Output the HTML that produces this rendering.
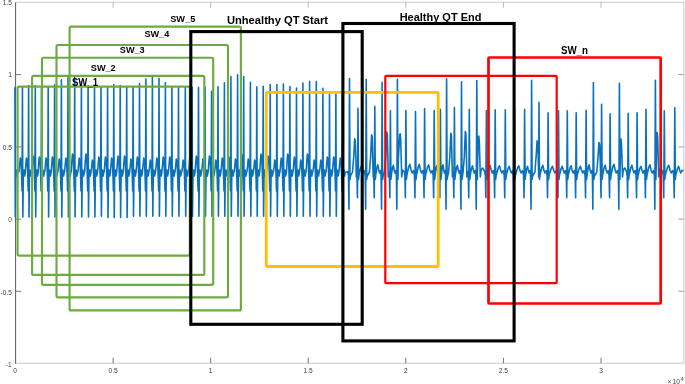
<!DOCTYPE html>
<html><head><meta charset="utf-8"><title>Sliding windows</title>
<style>
html,body{margin:0;padding:0;background:#fff;}
body{width:685px;height:384px;overflow:hidden;position:relative;font-family:"Liberation Sans",sans-serif;}
svg{position:absolute;left:0;top:0;display:block;will-change:transform;}
.ax{font-family:"Liberation Sans",sans-serif;font-size:6.6px;fill:#404040;}
.sw{font-family:"Liberation Sans",sans-serif;font-weight:bold;font-size:9.7px;fill:#000;}
.tt{font-family:"Liberation Sans",sans-serif;font-weight:bold;font-size:11.4px;fill:#000;}
</style></head><body>
<svg width="685" height="384" viewBox="0 0 685 384">
<rect x="0" y="0" width="685" height="384" fill="#ffffff"/>
<!-- axes box -->
<g fill="none">
<path d="M15.6,2.3 H683.9 V363.2 H15.6" stroke="#bcbcbc" stroke-width="0.8"/>
<path d="M15.6,2.3 V363.6" stroke="#5a5a5a" stroke-width="1"/>
<!-- ticks bottom -->
<path d="M113.1,363.2v-5.5 M210.7,363.2v-5.5 M308.2,363.2v-5.5 M405.8,363.2v-5.5 M503.4,363.2v-5.5 M601,363.2v-5.5" stroke="#555" stroke-width="0.8"/>
<!-- ticks top -->
<path d="M113.1,2.3v5.5 M210.7,2.3v5.5 M308.2,2.3v5.5 M405.8,2.3v5.5 M503.4,2.3v5.5 M601,2.3v5.5" stroke="#aaa" stroke-width="0.8"/>
<!-- ticks left -->
<path d="M15.6,74.6h5.5 M15.6,146.9h5.5 M15.6,219.1h5.5 M15.6,291.3h5.5" stroke="#555" stroke-width="0.8"/>
<!-- ticks right -->
<path d="M683.9,74.6h-5.5 M683.9,146.9h-5.5 M683.9,219.1h-5.5 M683.9,291.3h-5.5" stroke="#888" stroke-width="0.8"/>
</g>
<!-- signal -->
<path d="M14.90,87.30 L15.30,217.00 L15.75,177.00 L16.40,170.00 L17.10,176.00 L17.70,172.50 L19.05,171.50 L19.65,165.00 L20.25,158.00 L21.05,161.00 L21.65,176.00 L22.05,191.00 L22.45,87.30 L22.85,217.00 L23.30,177.00 L23.95,170.00 L24.65,176.00 L25.25,172.50 L25.80,165.00 L26.40,158.00 L27.20,161.00 L27.80,176.00 L28.20,191.00 L28.60,85.50 L29.00,217.00 L29.45,177.00 L30.10,170.00 L30.80,176.00 L31.40,172.50 L31.90,171.50 L32.50,163.00 L33.10,156.00 L33.90,159.00 L34.50,176.00 L34.90,191.00 L35.30,85.50 L35.70,217.00 L36.15,177.00 L36.80,170.00 L37.50,176.00 L38.10,172.50 L38.70,164.00 L39.30,157.00 L40.10,160.00 L40.70,176.00 L41.10,191.00 L41.50,87.30 L41.90,217.00 L42.35,177.00 L43.00,170.00 L43.70,176.00 L44.30,172.50 L44.80,171.50 L45.40,165.00 L46.00,158.00 L46.80,161.00 L47.40,176.00 L47.80,191.00 L48.20,87.30 L48.60,217.00 L49.05,177.00 L49.70,170.00 L50.40,176.00 L51.00,172.50 L51.20,171.50 L51.80,164.00 L52.40,157.00 L53.20,160.00 L53.80,176.00 L54.20,191.00 L54.60,84.70 L55.00,217.00 L55.45,177.00 L56.10,170.00 L56.80,176.00 L57.40,172.50 L58.00,171.50 L58.60,166.00 L59.20,159.00 L60.00,162.00 L60.60,176.00 L61.00,191.00 L61.40,79.90 L61.80,217.00 L62.25,177.00 L62.90,170.00 L63.60,176.00 L64.20,172.50 L64.60,171.50 L65.20,165.00 L65.80,158.00 L66.60,161.00 L67.20,176.00 L67.60,191.00 L68.00,77.70 L68.40,217.00 L68.85,177.00 L69.50,170.00 L70.20,176.00 L70.80,172.50 L71.30,171.50 L71.90,161.00 L72.50,154.00 L73.30,157.00 L73.90,176.00 L74.30,191.00 L74.70,77.30 L75.10,217.00 L75.55,177.00 L76.20,170.00 L76.90,176.00 L77.50,172.50 L78.00,171.50 L78.60,165.00 L79.20,158.00 L80.00,161.00 L80.60,176.00 L81.00,191.00 L81.40,81.50 L81.80,217.00 L82.25,177.00 L82.90,170.00 L83.60,176.00 L84.20,172.50 L84.70,171.50 L85.30,161.00 L85.90,154.00 L86.70,157.00 L87.30,176.00 L87.70,191.00 L88.10,85.80 L88.50,217.00 L88.95,177.00 L89.60,170.00 L90.30,176.00 L90.90,172.50 L91.10,171.50 L91.70,167.00 L92.30,160.00 L93.10,163.00 L93.70,176.00 L94.10,191.00 L94.50,87.30 L94.90,217.00 L95.35,177.00 L96.00,170.00 L96.70,176.00 L97.30,172.50 L97.60,171.50 L98.20,164.00 L98.80,157.00 L99.60,160.00 L100.20,176.00 L100.60,191.00 L101.00,87.30 L101.40,216.30 L101.85,177.00 L102.50,170.00 L103.20,176.00 L103.80,172.50 L104.20,171.50 L104.80,164.00 L105.40,157.00 L106.20,160.00 L106.80,176.00 L107.20,191.00 L107.60,87.30 L108.00,217.40 L108.45,177.00 L109.10,170.00 L109.80,176.00 L110.40,172.50 L111.00,165.00 L111.60,158.00 L112.40,161.00 L113.00,176.00 L113.40,191.00 L113.80,84.50 L114.20,217.40 L114.65,177.00 L115.30,170.00 L116.00,176.00 L116.60,172.50 L116.80,171.50 L117.40,163.00 L118.00,156.00 L118.80,159.00 L119.40,176.00 L119.80,191.00 L120.20,85.50 L120.60,217.40 L121.05,177.00 L121.70,170.00 L122.40,176.00 L123.00,172.50 L123.30,171.50 L123.90,163.00 L124.50,156.00 L125.30,159.00 L125.90,176.00 L126.30,191.00 L126.70,87.30 L127.10,217.40 L127.55,177.00 L128.20,170.00 L128.90,176.00 L129.50,172.50 L129.70,171.50 L130.30,166.00 L130.90,159.00 L131.70,162.00 L132.30,176.00 L132.70,191.00 L133.10,87.30 L133.50,216.30 L133.95,177.00 L134.60,170.00 L135.30,176.00 L135.90,172.50 L136.10,171.50 L136.70,164.00 L137.30,157.00 L138.10,160.00 L138.70,176.00 L139.10,191.00 L139.50,83.50 L139.90,216.30 L140.35,177.00 L141.00,170.00 L141.70,176.00 L142.30,172.50 L142.50,171.50 L143.10,165.00 L143.70,158.00 L144.50,161.00 L145.10,176.00 L145.50,191.00 L145.90,79.10 L146.30,216.30 L146.75,177.00 L147.40,170.00 L148.10,176.00 L148.70,172.50 L149.00,171.50 L149.60,167.00 L150.20,160.00 L151.00,163.00 L151.60,176.00 L152.00,191.00 L152.40,77.10 L152.80,216.30 L153.25,177.00 L153.90,170.00 L154.60,176.00 L155.20,172.50 L155.60,171.50 L156.20,165.00 L156.80,158.00 L157.60,161.00 L158.20,176.00 L158.60,191.00 L159.00,78.30 L159.40,216.30 L159.85,177.00 L160.50,170.00 L161.20,176.00 L161.80,172.50 L162.00,171.50 L162.60,164.00 L163.20,157.00 L164.00,160.00 L164.60,176.00 L165.00,191.00 L165.40,82.80 L165.80,216.30 L166.25,177.00 L166.90,170.00 L167.60,176.00 L168.20,172.50 L168.50,171.50 L169.10,164.00 L169.70,157.00 L170.50,160.00 L171.10,176.00 L171.50,191.00 L171.90,87.30 L172.30,216.30 L172.75,177.00 L173.40,170.00 L174.10,176.00 L174.70,172.50 L175.10,171.50 L175.70,166.00 L176.30,159.00 L177.10,162.00 L177.70,176.00 L178.10,191.00 L178.50,87.30 L178.90,216.30 L179.35,177.00 L180.00,170.00 L180.70,176.00 L181.30,172.50 L181.90,171.50 L182.50,167.00 L183.10,160.00 L183.90,163.00 L184.50,176.00 L184.90,191.00 L185.30,87.30 L185.70,216.30 L186.15,177.00 L186.80,170.00 L187.50,176.00 L188.10,172.50 L188.70,171.50 L189.30,163.00 L189.90,156.00 L190.70,159.00 L191.30,176.00 L191.70,191.00 L192.10,87.30 L192.50,216.30 L192.95,177.00 L193.60,170.00 L194.30,176.00 L194.90,172.50 L195.10,171.50 L195.70,163.00 L196.30,156.00 L197.10,159.00 L197.70,176.00 L198.10,191.00 L198.50,87.30 L198.90,216.30 L199.35,177.00 L200.00,170.00 L200.70,176.00 L201.30,172.50 L201.70,171.50 L202.30,166.00 L202.90,159.00 L203.70,162.00 L204.30,176.00 L204.70,191.00 L205.10,87.30 L205.50,216.30 L205.95,177.00 L206.60,170.00 L207.30,176.00 L207.90,172.50 L208.20,171.50 L208.80,163.00 L209.40,156.00 L210.20,159.00 L210.80,176.00 L211.20,191.00 L211.60,91.30 L212.00,216.30 L212.45,177.00 L213.10,170.00 L213.80,176.00 L214.40,172.50 L214.60,171.50 L215.20,167.00 L215.80,160.00 L216.60,163.00 L217.20,176.00 L217.60,191.00 L218.00,86.70 L218.40,216.30 L218.85,177.00 L219.50,170.00 L220.20,176.00 L220.80,172.50 L221.00,171.50 L221.60,165.00 L222.20,158.00 L223.00,161.00 L223.60,176.00 L224.00,191.00 L224.40,82.90 L224.80,216.30 L225.25,177.00 L225.90,170.00 L226.60,176.00 L227.20,172.50 L227.50,171.50 L228.10,164.00 L228.70,157.00 L229.50,160.00 L230.10,176.00 L230.50,191.00 L230.90,76.50 L231.30,216.30 L231.75,177.00 L232.40,170.00 L233.10,176.00 L233.70,172.50 L234.20,171.50 L234.80,166.00 L235.40,159.00 L236.20,162.00 L236.80,176.00 L237.20,191.00 L237.60,74.90 L238.00,216.30 L238.45,177.00 L239.10,170.00 L239.80,176.00 L240.40,172.50 L240.90,161.00 L241.50,154.00 L242.30,157.00 L242.90,176.00 L243.30,191.00 L243.70,76.50 L244.10,216.30 L244.55,177.00 L245.20,170.00 L245.90,176.00 L246.50,172.50 L247.00,171.50 L247.60,166.00 L248.20,159.00 L249.00,162.00 L249.60,176.00 L250.00,191.00 L250.40,82.30 L250.80,216.30 L251.25,177.00 L251.90,170.00 L252.60,176.00 L253.20,172.50 L253.40,171.50 L254.00,167.00 L254.60,160.00 L255.40,163.00 L256.00,176.00 L256.40,191.00 L256.80,86.90 L257.20,216.30 L257.65,177.00 L258.30,170.00 L259.00,176.00 L259.60,172.50 L259.80,171.50 L260.40,161.00 L261.00,154.00 L261.80,157.00 L262.40,176.00 L262.80,191.00 L263.20,86.30 L263.60,216.30 L264.05,177.00 L264.70,170.00 L265.40,176.00 L266.00,172.50 L266.80,171.50 L267.40,163.00 L268.00,156.00 L268.80,159.00 L269.40,176.00 L269.80,191.00 L270.20,84.60 L270.60,216.30 L271.05,177.00 L271.70,170.00 L272.40,176.00 L273.00,172.50 L273.50,171.50 L274.10,167.00 L274.70,160.00 L275.50,163.00 L276.10,176.00 L276.50,191.00 L276.90,84.60 L277.30,216.30 L277.75,177.00 L278.40,170.00 L279.10,176.00 L279.70,172.50 L280.00,171.50 L280.60,165.00 L281.20,158.00 L282.00,161.00 L282.60,176.00 L283.00,191.00 L283.40,84.10 L283.80,216.30 L284.25,177.00 L284.90,170.00 L285.60,176.00 L286.20,172.50 L286.50,171.50 L287.10,161.00 L287.70,154.00 L288.50,157.00 L289.10,176.00 L289.50,191.00 L289.90,86.60 L290.30,216.30 L290.75,177.00 L291.40,170.00 L292.10,176.00 L292.70,172.50 L293.10,171.50 L293.70,164.00 L294.30,157.00 L295.10,160.00 L295.70,176.00 L296.10,191.00 L296.50,88.10 L296.90,216.30 L297.35,177.00 L298.00,170.00 L298.70,176.00 L299.30,172.50 L299.50,171.50 L300.10,167.00 L300.70,160.00 L301.50,163.00 L302.10,176.00 L302.50,191.00 L302.90,83.10 L303.30,216.30 L303.75,177.00 L304.40,170.00 L305.10,176.00 L305.70,172.50 L306.20,171.50 L306.80,161.00 L307.40,154.00 L308.20,157.00 L308.80,176.00 L309.20,191.00 L309.60,81.60 L310.00,216.30 L310.45,177.00 L311.10,170.00 L311.80,176.00 L312.40,172.50 L312.90,171.50 L313.50,167.00 L314.10,160.00 L314.90,163.00 L315.50,176.00 L315.90,191.00 L316.30,81.60 L316.70,216.30 L317.15,177.00 L317.80,170.00 L318.50,176.00 L319.10,172.50 L319.50,171.50 L320.10,167.00 L320.70,160.00 L321.50,163.00 L322.10,176.00 L322.50,191.00 L322.90,88.40 L323.30,216.30 L323.75,177.00 L324.40,170.00 L325.10,176.00 L325.70,172.50 L326.10,171.50 L326.70,164.00 L327.30,157.00 L328.10,160.00 L328.70,176.00 L329.10,191.00 L329.50,94.10 L329.90,216.30 L330.35,177.00 L331.00,170.00 L331.70,176.00 L332.30,172.50 L332.50,171.50 L333.10,164.00 L333.70,157.00 L334.50,160.00 L335.10,176.00 L335.50,191.00 L335.90,94.10 L336.30,216.30 L336.75,177.00 L337.40,170.00 L338.10,176.00 L338.70,172.50 L339.00,171.50 L339.60,165.00 L340.20,158.00 L341.00,161.00 L341.60,176.00 L342.00,191.00 L342.40,92.50 L342.80,216.30 L343.25,177.00 L343.90,170.00 L344.60,176.00 L345.20,172.50 L347.80,171.50 L348.50,176.00 L348.95,209.30 L349.50,78.50 L350.00,179.50 L350.50,176.00 L352.50,172.00 L353.70,157.00 L354.70,138.80 L355.30,140.80 L355.90,160.00 L356.30,177.00 L357.00,176.00 L357.45,197.80 L358.00,108.20 L358.50,179.50 L359.00,175.00 L360.46,168.00 L361.44,165.80 L362.51,170.50 L363.41,173.00 L364.40,170.50 L364.50,171.50 L365.20,176.00 L365.65,209.30 L366.20,79.20 L366.70,179.50 L367.20,176.00 L369.40,172.00 L370.60,157.00 L371.60,134.80 L372.20,136.80 L372.80,160.00 L373.20,177.00 L373.80,176.00 L374.25,197.80 L374.80,106.40 L375.30,179.50 L375.80,175.00 L376.99,167.00 L377.87,164.80 L378.81,170.50 L379.62,173.00 L380.49,170.50 L381.10,176.00 L381.55,209.30 L382.10,82.40 L382.60,179.50 L383.10,176.00 L384.50,172.00 L385.70,157.00 L386.70,132.00 L387.30,134.00 L387.90,160.00 L388.30,177.00 L388.70,171.50 L389.40,176.00 L389.85,197.80 L390.40,110.80 L390.90,179.50 L391.40,175.00 L392.50,167.50 L393.34,165.30 L394.25,170.50 L395.02,173.00 L395.86,170.50 L396.40,176.00 L396.85,209.30 L397.40,79.40 L397.90,179.50 L398.30,160.00 L399.70,134.80 L400.20,133.80 L400.70,138.80 L401.20,158.00 L401.70,177.00 L402.50,170.00 L404.20,171.50 L404.90,176.00 L405.35,197.80 L405.90,110.50 L406.40,179.50 L406.90,175.00 L408.78,166.50 L409.93,164.30 L411.18,170.50 L412.24,173.00 L413.39,170.50 L413.80,171.50 L414.50,176.00 L414.95,197.80 L415.50,111.50 L416.00,179.50 L416.50,175.00 L418.23,166.50 L419.32,164.30 L420.50,170.50 L421.51,173.00 L422.60,170.50 L422.90,171.50 L423.60,176.00 L424.05,197.80 L424.60,108.50 L425.10,179.50 L425.60,175.00 L427.48,167.00 L428.63,164.80 L429.88,170.50 L430.94,173.00 L432.09,170.50 L432.50,171.50 L433.20,176.00 L433.65,197.80 L434.20,110.50 L434.70,179.50 L435.20,175.00 L436.06,168.00 L436.80,165.80 L437.61,170.50 L438.29,173.00 L439.04,170.50 L439.40,176.00 L439.85,197.80 L440.40,109.20 L440.90,179.50 L441.40,175.00 L442.26,167.00 L443.00,164.80 L443.81,170.50 L444.49,173.00 L445.24,170.50 L445.60,176.00 L446.05,209.30 L446.60,78.90 L447.10,179.50 L447.60,176.00 L448.60,172.00 L449.80,157.00 L450.80,133.20 L451.40,135.20 L452.00,160.00 L452.40,177.00 L452.70,171.50 L453.40,176.00 L453.85,197.80 L454.40,107.50 L454.90,179.50 L455.40,175.00 L456.53,167.50 L457.38,165.30 L458.31,170.50 L459.09,173.00 L459.94,170.50 L460.50,176.00 L460.95,209.30 L461.50,81.90 L462.00,179.50 L462.50,176.00 L463.10,172.00 L464.30,157.00 L465.30,131.50 L465.90,133.50 L466.50,160.00 L466.90,177.00 L467.60,171.50 L468.30,176.00 L468.75,197.80 L469.30,109.20 L469.80,179.50 L470.30,175.00 L471.55,168.00 L472.45,165.80 L473.43,170.50 L474.25,173.00 L475.15,170.50 L475.80,176.00 L476.25,209.30 L476.80,80.60 L477.30,179.50 L477.70,160.00 L478.30,137.00 L478.80,136.00 L479.30,141.00 L479.80,158.00 L480.30,177.00 L481.10,170.00 L482.60,168.00 L484.70,171.50 L485.40,176.00 L485.85,197.80 L486.40,110.50 L486.90,179.50 L487.40,175.00 L489.04,167.50 L490.10,165.30 L491.24,170.50 L492.21,173.00 L493.26,170.50 L493.50,171.50 L494.20,176.00 L494.65,197.80 L495.20,109.90 L495.70,179.50 L496.20,175.00 L498.23,168.00 L499.44,165.80 L500.75,170.50 L501.87,173.00 L503.08,170.50 L503.60,171.50 L504.30,176.00 L504.75,197.80 L505.30,109.90 L505.80,179.50 L506.30,175.00 L508.06,168.50 L509.16,166.30 L510.36,170.50 L511.37,173.00 L512.48,170.50 L512.80,171.50 L513.50,176.00 L513.95,197.80 L514.50,109.50 L515.00,179.50 L515.50,175.00 L517.53,168.00 L518.74,165.80 L520.06,170.50 L521.17,173.00 L522.38,170.50 L522.90,171.50 L523.60,176.00 L524.05,197.80 L524.60,109.20 L525.10,179.50 L525.60,175.00 L526.70,168.50 L527.54,166.30 L528.45,170.50 L529.22,173.00 L530.06,170.50 L530.60,176.00 L531.05,209.30 L531.60,80.30 L532.10,179.50 L532.60,176.00 L534.90,172.00 L536.10,157.00 L537.10,140.70 L537.70,142.70 L538.30,160.00 L538.70,177.00 L539.00,102.20 L539.50,179.50 L540.00,175.00 L541.73,167.50 L542.82,165.30 L544.00,170.50 L545.01,173.00 L546.10,170.50 L546.40,171.50 L547.10,176.00 L547.55,197.80 L548.10,112.70 L548.60,179.50 L549.10,175.00 L551.22,168.50 L552.47,166.30 L553.82,170.50 L554.96,173.00 L556.21,170.50 L556.80,171.50 L557.50,176.00 L557.95,197.80 L558.50,110.80 L559.00,179.50 L559.50,175.00 L561.14,168.50 L562.20,166.30 L563.34,170.50 L564.31,173.00 L565.36,170.50 L565.60,171.50 L566.30,176.00 L566.75,197.80 L567.30,110.80 L567.80,179.50 L568.30,175.00 L569.97,168.00 L571.04,165.80 L572.20,170.50 L573.17,173.00 L574.24,170.50 L574.50,171.50 L575.20,176.00 L575.65,197.80 L576.20,112.70 L576.70,179.50 L577.20,175.00 L579.17,168.50 L580.36,166.30 L581.64,170.50 L582.73,173.00 L583.92,170.50 L584.40,171.50 L585.10,176.00 L585.55,197.80 L586.10,110.20 L586.60,179.50 L587.10,175.00 L588.29,167.00 L589.17,164.80 L590.12,170.50 L590.92,173.00 L591.79,170.50 L592.40,176.00 L592.85,209.30 L593.40,82.60 L593.90,179.50 L594.40,176.00 L596.80,172.00 L598.00,157.00 L599.00,142.60 L599.60,144.60 L600.20,160.00 L600.60,177.00 L601.05,197.80 L601.60,104.30 L602.10,179.50 L602.60,175.00 L604.15,167.50 L605.17,165.30 L606.27,170.50 L607.21,173.00 L608.23,170.50 L608.40,171.50 L609.10,176.00 L609.55,197.80 L610.10,113.70 L610.60,179.50 L611.10,175.00 L612.89,166.50 L614.01,164.30 L615.22,170.50 L616.24,173.00 L617.35,170.50 L617.70,171.50 L618.40,176.00 L618.85,209.30 L619.40,83.20 L619.90,179.50 L620.30,160.00 L620.50,140.00 L621.00,139.00 L621.50,144.00 L622.00,158.00 L622.50,177.00 L623.30,170.00 L624.60,168.00 L626.50,171.50 L627.20,176.00 L627.65,197.80 L628.20,113.30 L628.70,179.50 L629.20,175.00 L630.87,167.50 L631.94,165.30 L633.10,170.50 L634.07,173.00 L635.14,170.50 L635.40,171.50 L636.10,176.00 L636.55,197.80 L637.10,112.70 L637.60,179.50 L638.10,175.00 L639.77,168.50 L640.84,166.30 L642.00,170.50 L642.97,173.00 L644.04,170.50 L644.30,171.50 L645.00,176.00 L645.45,197.80 L646.00,109.20 L646.50,179.50 L647.00,175.00 L648.82,167.00 L649.95,164.80 L651.17,170.50 L652.20,173.00 L653.33,170.50 L653.70,171.50 L654.40,176.00 L654.85,209.30 L655.40,80.20 L655.90,179.50 L656.30,160.00 L656.70,133.50 L657.20,132.50 L657.70,137.50 L658.20,158.00 L658.70,177.00 L659.50,170.00 L660.75,168.00 L662.60,171.50 L663.30,176.00 L663.75,197.80 L664.30,110.80 L664.80,179.50 L665.30,175.00 L667.45,167.50 L668.71,165.30 L670.07,170.50 L671.23,173.00 L672.49,170.50 L673.10,171.50 L673.80,176.00 L674.25,197.80 L674.80,107.80 L675.30,179.50 L675.80,175.00 L677.50,168.50 L678.58,166.30 L679.75,170.50 L680.74,173.00 L681.82,170.50 L682.30,171.00 L683.40,170.00" fill="none" stroke="#0a72bd" stroke-width="1.6" stroke-linejoin="round"/>
<!-- windows -->
<g fill="none" stroke-linejoin="round">
<rect x="17.6" y="86.6" width="172.2" height="169" rx="1.5" stroke="#6dab42" stroke-width="2.15"/>
<rect x="32.1" y="75.9" width="172.2" height="199.0" rx="1.5" stroke="#6dab42" stroke-width="2.15"/>
<rect x="42.0" y="57.7" width="171.2" height="227.1" rx="1.5" stroke="#6dab42" stroke-width="2.15"/>
<rect x="56.5" y="45.0" width="171.5" height="252.3" rx="1.5" stroke="#6dab42" stroke-width="2.15"/>
<rect x="69.6" y="26.6" width="171.3" height="283.8" rx="1.5" stroke="#6dab42" stroke-width="2.15"/>
<rect x="266.3" y="92.3" width="171.9" height="174.2" rx="0.8" stroke="#ffc000" stroke-width="2.8"/>
<rect x="385.3" y="75.8" width="171.4" height="207.3" rx="0.8" stroke="#ff0000" stroke-width="2.2"/>
<rect x="488.5" y="57.5" width="172.2" height="246.0" rx="0.8" stroke="#ff0000" stroke-width="2.7"/>
<rect x="190.8" y="31.6" width="171.4" height="292.7" stroke="#000" stroke-width="3.1" stroke-linejoin="miter"/>
<rect x="342.9" y="23.5" width="171.2" height="317.4" stroke="#000" stroke-width="3.1" stroke-linejoin="miter"/>
</g>
<!-- labels -->
<text class="sw" x="72.0" y="85.7" textLength="26" lengthAdjust="spacingAndGlyphs" style="font-size:10.2px">SW_1</text>
<text class="sw" x="90.8" y="71.3" textLength="24.9" lengthAdjust="spacingAndGlyphs">SW_2</text>
<text class="sw" x="119.8" y="53.4" textLength="24.9" lengthAdjust="spacingAndGlyphs">SW_3</text>
<text class="sw" x="144.4" y="37.2" textLength="24.9" lengthAdjust="spacingAndGlyphs">SW_4</text>
<text class="sw" x="170.2" y="21.8" textLength="25.1" lengthAdjust="spacingAndGlyphs">SW_5</text>
<text class="sw" x="560.9" y="53.6" textLength="27.1" lengthAdjust="spacingAndGlyphs" style="font-size:10.7px">SW_n</text>
<text class="tt" x="226.9" y="23.7" textLength="101.2" lengthAdjust="spacingAndGlyphs">Unhealthy QT Start</text>
<text class="tt" x="399.7" y="20.5" textLength="81.7" lengthAdjust="spacingAndGlyphs" style="font-size:10.4px">Healthy QT End</text>
<!-- axis labels -->
<g class="ax" text-anchor="end">
<text x="11.9" y="5.1">1.5</text>
<text x="11.9" y="77.0">1</text>
<text x="11.9" y="149.7">0.5</text>
<text x="11.9" y="222.3">0</text>
<text x="11.9" y="294.9">-0.5</text>
<text x="11.6" y="367.3">-1</text>
</g>
<g class="ax" text-anchor="middle">
<text x="15" y="372.5">0</text>
<text x="113.1" y="372.5">0.5</text>
<text x="210.7" y="372.5">1</text>
<text x="308.2" y="372.5">1.5</text>
<text x="405.8" y="372.5">2</text>
<text x="503.4" y="372.5">2.5</text>
<text x="601" y="372.5">3</text>
</g>
<text class="ax" x="667.4" y="383.7" style="font-size:6.6px">×</text>
<text class="ax" x="672.5" y="383.7" style="font-size:6.6px">10</text>
<text class="ax" x="680.7" y="381.2" style="font-size:4.8px">4</text>
</svg>
</body></html>
